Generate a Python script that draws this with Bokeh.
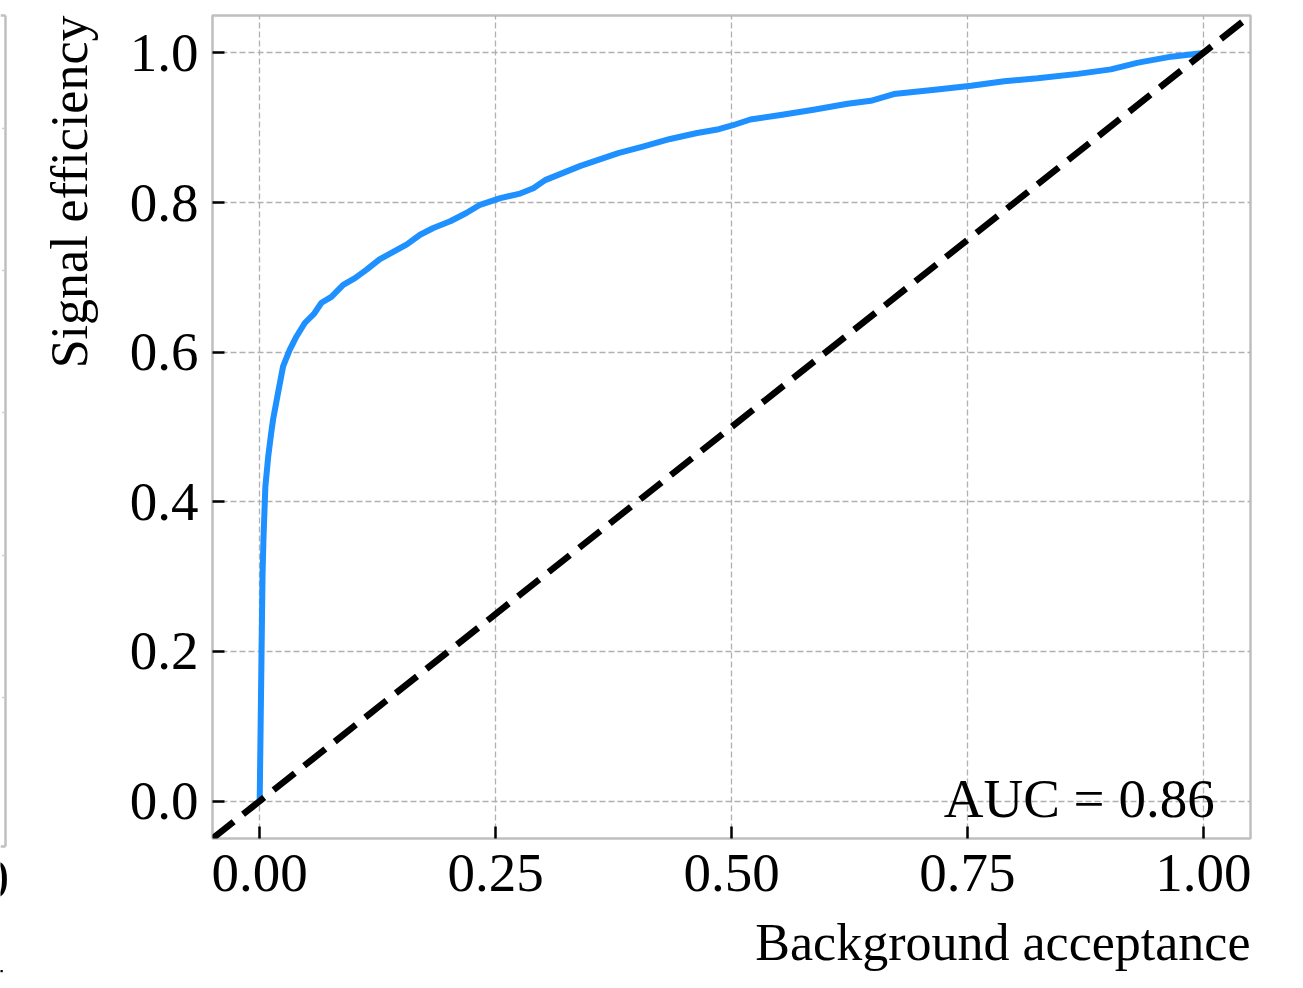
from bokeh.plotting import figure
from bokeh.layouts import row
from bokeh.models import Range1d, FixedTicker, Label, Slope, ColumnDataSource, Title
from bokeh.core.properties import value
from bokeh.embed import file_html
from bokeh.resources import INLINE

# ROC curve of the classifier: background acceptance vs signal efficiency
fpr = [0.000, 0.001, 0.002, 0.003, 0.004, 0.006, 0.009, 0.012, 0.0142, 0.0195,
       0.0248, 0.0318, 0.039, 0.0478, 0.058, 0.0655, 0.076, 0.0885, 0.101, 0.113,
       0.127, 0.1415, 0.156, 0.170, 0.184, 0.202, 0.219, 0.2335, 0.255, 0.276,
       0.290, 0.3025, 0.340, 0.380, 0.407, 0.435, 0.4636, 0.4866, 0.5007, 0.520,
       0.552, 0.587, 0.623, 0.6476, 0.672, 0.718, 0.754, 0.789, 0.8245, 0.867,
       0.902, 0.931, 0.966, 1.000]
tpr = [0.000, 0.100, 0.200, 0.300, 0.350, 0.420, 0.460, 0.490, 0.510, 0.546,
       0.581, 0.603, 0.621, 0.639, 0.652, 0.666, 0.674, 0.690, 0.699, 0.710,
       0.724, 0.734, 0.744, 0.757, 0.766, 0.775, 0.786, 0.797, 0.806, 0.812,
       0.819, 0.830, 0.849, 0.866, 0.875, 0.885, 0.893, 0.898, 0.903, 0.911,
       0.917, 0.924, 0.932, 0.936, 0.945, 0.951, 0.956, 0.962, 0.966, 0.972,
       0.978, 0.987, 0.995, 1.000]
auc_value = 0.86

x_ticks = [0.0, 0.25, 0.5, 0.75, 1.0]
y_ticks = [0.0, 0.2, 0.4, 0.6, 0.8, 1.0]
x_tick_labels = ["0.00", "0.25", "0.50", "0.75", "1.00"]
y_tick_labels = ["0.0", "0.2", "0.4", "0.6", "0.8", "1.0"]

SERIF = "Liberation Serif"
GREY = "#bfbfbf"

# ---- thin strip showing the edge of the neighbouring panel ----
W_STRIP = 8
H = 988
strip = figure(width=W_STRIP, height=H, x_range=Range1d(0, W_STRIP), y_range=Range1d(H, 0),
               output_backend="svg", toolbar_location=None,
               min_border=0, min_border_left=0, min_border_right=0,
               min_border_top=0, min_border_bottom=0)
strip.frame_align = False
strip.axis.visible = False
strip.grid.visible = False
strip.outline_line_color = None
strip.background_fill_color = "white"
strip.border_fill_color = "white"
strip.segment(x0=[5, 0, 0], y0=[15, 15, 846], x1=[5, 5, 5], y1=[846, 15, 846],
              line_color=GREY, line_width=2.5)
tick_rows = [128, 270, 412, 555, 697]
strip.segment(x0=[1.5] * 5, y0=tick_rows, x1=[4] * 5, y1=tick_rows,
              line_color="#d0d0d0", line_width=1.5)
strip.text(x=[8.5], y=[878], text=["0"], text_align="right", text_baseline="middle",
           text_font=value(SERIF), text_font_size="55px", text_color="black")
strip.text(x=[3.5], y=[976], text=["t"], text_align="right", text_baseline="alphabetic",
           text_font=value(SERIF), text_font_size="52px", text_color="black")

# ---- main ROC panel ----
p = figure(width=1303 - W_STRIP, height=H,
           x_range=Range1d(-0.05, 1.05), y_range=Range1d(-0.05, 1.05),
           output_backend="svg", toolbar_location=None,
           min_border_left=212 - W_STRIP, min_border_right=53,
           min_border_top=15, min_border_bottom=150)
p.background_fill_color = "white"
p.border_fill_color = "white"
p.outline_line_color = GREY
p.outline_line_width = 2.5

p.xaxis.ticker = FixedTicker(ticks=x_ticks)
p.yaxis.ticker = FixedTicker(ticks=y_ticks)
p.xaxis.major_label_overrides = dict(zip(x_ticks, x_tick_labels))
p.yaxis.major_label_overrides = dict(zip(y_ticks, y_tick_labels))
for ax in (p.xaxis, p.yaxis):
    ax.axis_line_color = None
    ax.major_tick_in = 12
    ax.major_tick_out = 0
    ax.major_tick_line_color = "black"
    ax.major_tick_line_width = 2.5
    ax.minor_tick_line_color = None
    ax.major_label_text_font = SERIF
    ax.major_label_text_font_size = "55px"
    ax.major_label_text_color = "black"
p.xaxis.major_label_standoff = 16
p.yaxis.major_label_standoff = 14

# axis titles, flush with the right end / top end of the frame
xlab = Title(text="Background acceptance", align="right", text_font=SERIF,
             text_font_size="52px", text_font_style="normal", text_color="black",
             text_line_height=1.0, standoff=36)
ylab = Title(text="Signal efficiency", align="right", text_font=SERIF,
             text_font_size="52px", text_font_style="normal", text_color="black",
             text_line_height=1.0, standoff=57)
p.add_layout(xlab, "below")
p.add_layout(ylab, "left")

for g in (p.xgrid, p.ygrid):
    g.grid_line_color = "#b0b0b0"
    g.grid_line_width = 1.3
    g.grid_line_dash = "6 3"
p.xgrid.ticker = FixedTicker(ticks=x_ticks)
p.ygrid.ticker = FixedTicker(ticks=y_ticks)

src = ColumnDataSource(data=dict(fpr=fpr, tpr=tpr))
p.line("fpr", "tpr", source=src, line_color="#1e90ff", line_width=6, line_join="round")

# random-guess reference line
p.add_layout(Slope(gradient=1, y_intercept=0, line_color="black", line_width=6.5, line_dash="27 12"))

p.add_layout(Label(x=1.012, y=0.003, text=f"AUC = {auc_value:.2f}", text_align="right",
                   text_baseline="alphabetic", text_font=SERIF, text_font_size="55px",
                   text_color="black"))

layout = row(strip, p, spacing=0)
open("out.html", "w").write(file_html(layout, INLINE))
